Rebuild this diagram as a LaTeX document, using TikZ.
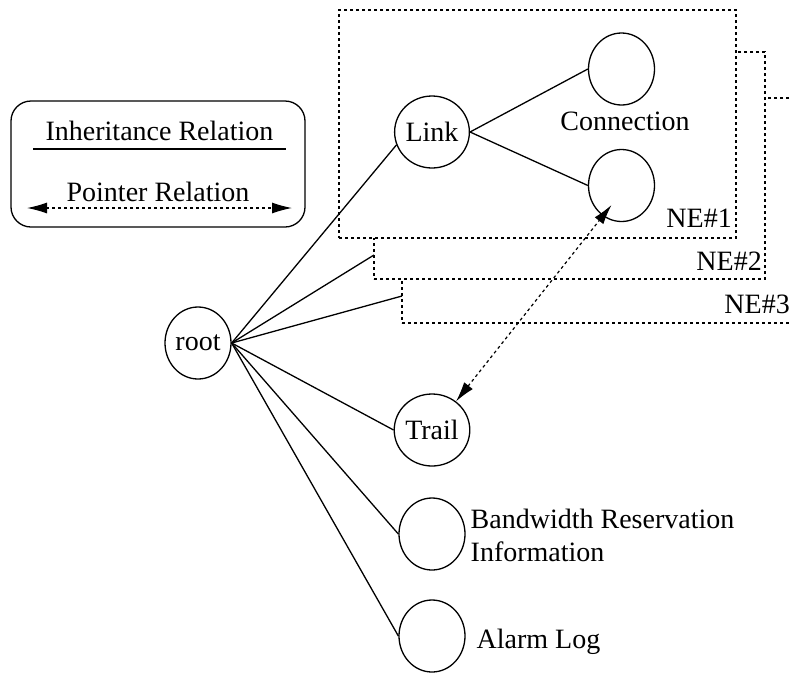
\documentclass[tikz,border=0pt]{standalone}
\usepackage{fontspec}
\setmainfont{Liberation Serif}
\usetikzlibrary{shapes.geometric,arrows.meta}
\begin{document}
\begin{tikzpicture}[x=1pt,y=-1pt,
  obj/.style={draw, ellipse, line width=1.3pt, minimum width=66pt, minimum height=72pt, inner sep=0pt, font=\fontsize{28}{33}\selectfont},
  lbl/.style={inner sep=0pt, font=\fontsize{28}{33}\selectfont},
  tree/.style={line width=1.3pt},
  nebox/.style={draw, rectangle, dash pattern=on 3pt off 3pt, line width=1.2pt, fill=white, inner sep=0pt},
  tip/.style={Latex[length=20pt,width=11pt]},
  ptr/.style={dash pattern=on 3pt off 3pt, line width=1.2pt, {Latex[length=20pt,width=11pt]}-{Latex[length=20pt,width=11pt]}}
]
\useasboundingbox (0,0) rectangle (792,673);
\clip (0,0) rectangle (792,673);

% legend
\node[draw, rounded corners=20pt, line width=1.3pt, minimum width=294pt, minimum height=126pt, inner sep=0pt] (legend) at (158,164) {};
\node[lbl, anchor=base] (inhtext) at (159.5,140) {Inheritance Relation};
\coordinate (ih1) at (33,149);
\coordinate (ih2) at (286,149);
\draw[tree] (ih1) -- (ih2);
\node[lbl, anchor=base] (ptrtext) at (158,201.5) {Pointer Relation};
\coordinate (pr1) at (27,208);
\coordinate (pr2) at (292,208);
\draw[ptr] (pr1) -- (pr2);

% network element frames, back to front
\node[nebox, minimum width=408pt, minimum height=225pt] (ne3) at (606,210.5) {};
\node[nebox, minimum width=391pt, minimum height=227pt] (ne2) at (569.5,165.5) {};
\node[nebox, minimum width=397pt, minimum height=228pt] (ne1) at (537.5,124) {};
\node[lbl, anchor=base east] (ne1l) at (732,227) {NE\#1};
\node[lbl, anchor=base east] (ne2l) at (762,270) {NE\#2};
\node[lbl, anchor=base east] (ne3l) at (790,313) {NE\#3};

% objects
\node[obj] (root) at (198,343) {root};
\node[obj] (link) at (432,132) {Link};
\node[obj] (conn1) at (621.5,69) {};
\node[obj] (conn2) at (621.5,185.5) {};
\node[lbl, anchor=base] (conntext) at (625,130.5) {Connection};
\node[obj] (trail) at (432,430) {Trail};
\node[obj] (bw) at (432,534) {};
\node[lbl, anchor=base west] (bwtext1) at (470.5,528) {Bandwidth Reservation};
\node[lbl, anchor=base west] (bwtext2) at (470.5,561.5) {Information};
\node[obj] (alarm) at (432,636) {};
\node[lbl, anchor=base west] (alarmtext) at (476.5,648) {Alarm Log};

% inheritance relations
\coordinate (e2) at (374,255);
\coordinate (e3) at (402,296);
\draw[tree] (root.east) -- (link.200);
\draw[tree] (root.east) -- (e2);
\draw[tree] (root.east) -- (e3);
\draw[tree] (root.east) -- (trail.west);
\draw[tree] (root.east) -- (bw.west);
\draw[tree] (root.east) -- (alarm.west);
\draw[tree] (link.east) -- (conn1.west);
\draw[tree] (link.east) -- (conn2.west);

% pointer relation
\coordinate (ptip) at (611.5,205);
\draw[ptr] (trail.50) -- (ptip);
\end{tikzpicture}
\end{document}
